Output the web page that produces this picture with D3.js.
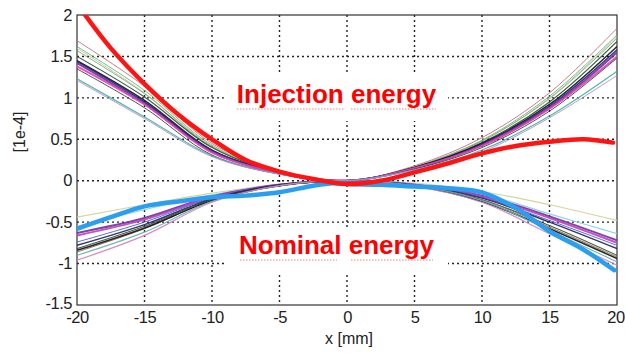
<!DOCTYPE html>
<html><head><meta charset="utf-8">
<script src="https://cdn.jsdelivr.net/npm/d3@7/dist/d3.min.js"></script>
<style>body{margin:0;background:#fff}svg{display:block}</style>
</head><body>
<script>
// ---- data ----
const xTicks = [-20,-15,-10,-5,0,5,10,15,20];
const yTicks = [2,1.5,1,0.5,0,-0.5,-1,-1.5];
const xSim = [-20,-15,-10,-5,0,5,10,15,20];

const injectionSims = [
  {color:"#c07080", w:1,   v:[1.69,1.14,0.45,0.12,0.0,0.18,0.52,1.06,1.84]},
  {color:"#70b080", w:1,   v:[1.62,1.09,0.43,0.11,0.0,0.17,0.49,1.02,1.76]},
  {color:"#a0d0a0", w:1,   v:[1.60,1.06,0.42,0.11,0.0,0.17,0.48,1.00,1.74]},
  {color:"#90a070", w:1,   v:[1.57,1.05,0.41,0.11,0.0,0.17,0.48,0.99,1.72]},
  {color:"#205030", w:1.2, v:[1.50,1.01,0.40,0.10,0.0,0.16,0.46,0.95,1.68]},
  {color:"#111111", w:1.5, v:[1.45,0.97,0.37,0.10,0.0,0.16,0.45,0.92,1.62]},
  {color:"#202080", w:1.5, v:[1.44,0.95,0.36,0.10,0.0,0.15,0.44,0.90,1.58]},
  {color:"#7030a0", w:2,   v:[1.42,0.93,0.35,0.09,0.0,0.15,0.43,0.88,1.55]},
  {color:"#e040b0", w:2,   v:[1.38,0.92,0.34,0.09,0.0,0.15,0.42,0.87,1.50]},
  {color:"#404040", w:1,   v:[1.35,0.88,0.31,0.08,0.0,0.14,0.40,0.84,1.48]},
  {color:"#40b0a0", w:1.2, v:[1.23,0.77,0.30,0.08,0.0,0.13,0.37,0.78,1.32]},
  {color:"#b090d0", w:1,   v:[1.21,0.75,0.29,0.08,0.0,0.13,0.35,0.76,1.27]}
];
const nominalSims = [
  {color:"#d0d090", w:1.2, v:[-0.44,-0.29,-0.15,-0.04,0,-0.03,-0.13,-0.29,-0.48]},
  {color:"#80d0e0", w:1.2, v:[-0.55,-0.35,-0.17,-0.05,0,-0.04,-0.16,-0.40,-0.64]},
  {color:"#7030a0", w:2,   v:[-0.63,-0.45,-0.19,-0.05,0,-0.05,-0.18,-0.43,-0.72]},
  {color:"#c040c0", w:2,   v:[-0.66,-0.47,-0.20,-0.05,0,-0.05,-0.19,-0.45,-0.75]},
  {color:"#4060d0", w:1,   v:[-0.74,-0.50,-0.21,-0.05,0,-0.05,-0.20,-0.48,-0.78]},
  {color:"#202060", w:1.5, v:[-0.78,-0.53,-0.22,-0.05,0,-0.06,-0.21,-0.50,-0.82]},
  {color:"#305030", w:1.2, v:[-0.82,-0.55,-0.23,-0.06,0,-0.06,-0.23,-0.54,-0.90]},
  {color:"#906040", w:1,   v:[-0.86,-0.58,-0.24,-0.06,0,-0.06,-0.23,-0.56,-0.92]},
  {color:"#111111", w:1.5, v:[-0.84,-0.57,-0.24,-0.06,0,-0.06,-0.25,-0.58,-0.94]},
  {color:"#60b0b0", w:1.2, v:[-0.90,-0.62,-0.25,-0.06,0,-0.06,-0.24,-0.60,-0.98]},
  {color:"#d080c0", w:1.2, v:[-0.96,-0.66,-0.26,-0.06,0,-0.07,-0.26,-0.64,-1.02]}
];
const injMeasX = [-19.4,-17.5,-15,-12.5,-10,-7.5,-5,-2.5,0,2.5,5,7.5,10,12.5,15,17.5,19.7];
const injMeasV = [2.0,1.6,1.17,0.8,0.5,0.25,0.11,0.02,-0.04,0.0,0.1,0.21,0.33,0.42,0.47,0.5,0.46];
const nomMeasX = [-20,-17.5,-15,-12.5,-10,-7.5,-5,-2.5,-1,0,2.5,5,7.5,10,12.5,15,17.5,19.8];
const nomMeasV = [-0.58,-0.44,-0.31,-0.25,-0.2,-0.18,-0.14,-0.06,-0.03,-0.04,-0.05,-0.07,-0.09,-0.14,-0.33,-0.61,-0.83,-1.08];

// ---- layout ----
const W = 625, H = 353;
const L = 77, R = 617, T = 15, B = 305;
const svg = d3.select("body").append("svg").attr("width", W).attr("height", H);
const x = d3.scaleLinear().domain([-20,20]).range([L,R]);
const y = d3.scaleLinear().domain([-1.5,2]).range([B,T]);
const font = "'Liberation Sans', Arial, sans-serif";

// grid
const grid = svg.append("g");
grid.selectAll("line.v").data(xTicks.slice(1,-1)).join("line")
  .attr("x1", d=>x(d)).attr("x2", d=>x(d)).attr("y1", T).attr("y2", B)
  .attr("stroke","#222").attr("stroke-width",1.4).attr("stroke-dasharray","2,3");
grid.selectAll("line.h").data(yTicks.slice(1,-1)).join("line")
  .attr("y1", d=>y(d)).attr("y2", d=>y(d)).attr("x1", L).attr("x2", R)
  .attr("stroke","#222").attr("stroke-width",1.4).attr("stroke-dasharray","2,3");

// white boxes behind labels
svg.append("rect").attr("x",226).attr("y",74).attr("width",222).attr("height",47).attr("fill","#fff");
svg.append("rect").attr("x",226).attr("y",227).attr("width",222).attr("height",45).attr("fill","#fff");

// axes
const fmt = d => String(d);
const xAxis = d3.axisBottom(x).tickValues(xTicks).tickFormat(fmt).tickSize(0).tickPadding(6);
const yAxis = d3.axisLeft(y).tickValues(yTicks).tickFormat(fmt).tickSize(0).tickPadding(5);
const gx = svg.append("g").attr("transform",`translate(0,${B})`).call(xAxis);
const gy = svg.append("g").attr("transform",`translate(${L},0)`).call(yAxis);
[gx,gy].forEach(g=>{
  g.select(".domain").remove();
  g.selectAll("text").attr("font-family",font).attr("font-size",16.5).attr("fill","#222")
    .attr("letter-spacing","-0.5");
});
gx.selectAll("text").attr("dy","0.72em");
gx.selectAll("text").filter(d=>d===20).attr("dx","-1.5");
gy.selectAll("text").filter(d=>d===-1.5).attr("dy","0.2em");

svg.append("rect").attr("x",L).attr("y",T).attr("width",R-L).attr("height",B-T)
  .attr("fill","none").attr("stroke","#333").attr("stroke-width",1.2);

svg.append("text").attr("x",349).attr("y",344).attr("text-anchor","middle")
  .attr("font-family",font).attr("font-size",16).attr("fill","#222").text("x [mm]");
svg.append("text").attr("transform","translate(25,132) rotate(-90)").attr("text-anchor","middle")
  .attr("font-family",font).attr("font-size",16).attr("fill","#222").text("[1e-4]");

// labels
function label(txt, cy, words){
  svg.append("text").attr("x",336.5).attr("y",cy).attr("text-anchor","middle")
    .attr("font-family",font).attr("font-weight","bold").attr("font-size",26)
    .attr("fill","#ff0000").text(txt);
  words.forEach(([a,b])=>{
    svg.append("line").attr("x1",a).attr("x2",b).attr("y1",cy+6).attr("y2",cy+6)
      .attr("stroke","#e03030").attr("stroke-width",1).attr("stroke-dasharray","1.5,1.5").attr("opacity",0.6);
  });
}
label("Injection energy", 103, [[237,344],[351,436]]);
label("Nominal energy", 254, [[240,337],[351,433]]);

// curves
svg.append("clipPath").attr("id","clip").append("rect")
  .attr("x",L).attr("y",T).attr("width",R-L).attr("height",B-T);
const plot = svg.append("g").attr("clip-path","url(#clip)");
const line = d3.line().x(d=>x(d[0])).y(d=>y(d[1])).curve(d3.curveCatmullRom.alpha(0.5));

[...nominalSims, ...injectionSims].forEach(s=>{
  plot.append("path").attr("d", line(xSim.map((xx,i)=>[xx,s.v[i]])))
    .attr("fill","none").attr("stroke",s.color).attr("stroke-width",s.w).attr("opacity",0.9);
});
plot.append("path").attr("d", line(nomMeasX.map((xx,i)=>[xx,nomMeasV[i]])))
  .attr("fill","none").attr("stroke","#2a9ef0").attr("stroke-width",4.5).attr("stroke-linecap","round");
plot.append("path").attr("d", line(injMeasX.map((xx,i)=>[xx,injMeasV[i]])))
  .attr("fill","none").attr("stroke","#ff1414").attr("stroke-width",4.5).attr("stroke-linecap","round");
</script>
</body></html>
